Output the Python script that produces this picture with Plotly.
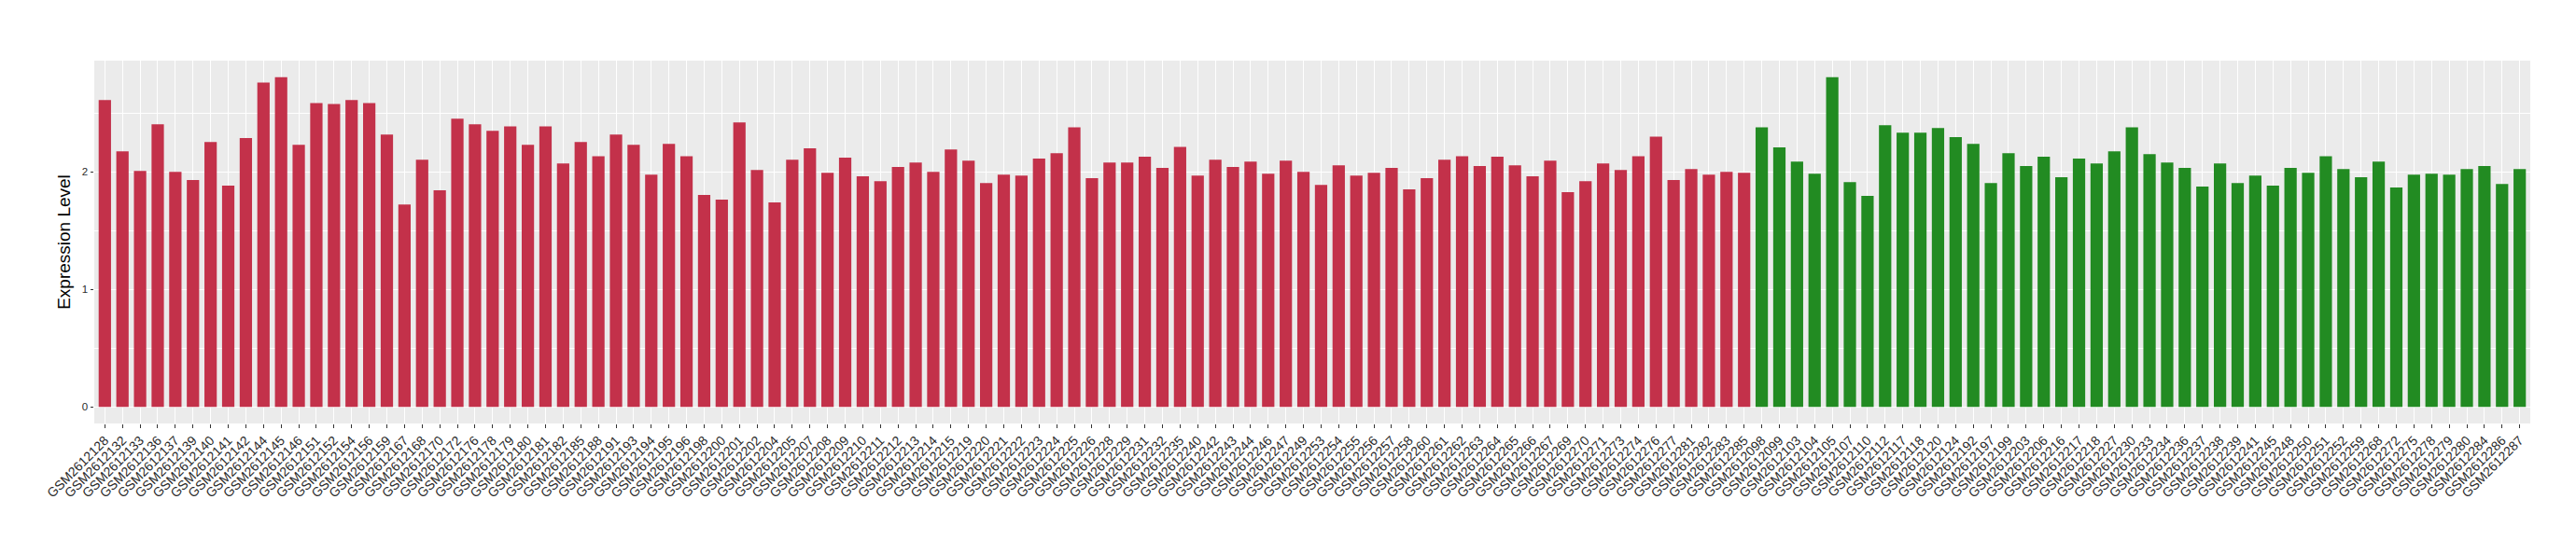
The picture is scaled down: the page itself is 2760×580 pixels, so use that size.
import plotly.graph_objects as go

red_samples = ["GSM2612128","GSM2612132","GSM2612133","GSM2612136","GSM2612137","GSM2612139","GSM2612140","GSM2612141","GSM2612142","GSM2612144",
"GSM2612145","GSM2612146","GSM2612151","GSM2612152","GSM2612154","GSM2612156","GSM2612159","GSM2612167","GSM2612168","GSM2612170",
"GSM2612172","GSM2612176","GSM2612178","GSM2612179","GSM2612180","GSM2612181","GSM2612182","GSM2612185","GSM2612188","GSM2612191",
"GSM2612193","GSM2612194","GSM2612195","GSM2612196","GSM2612198","GSM2612200","GSM2612201","GSM2612202","GSM2612204","GSM2612205",
"GSM2612207","GSM2612208","GSM2612209","GSM2612210","GSM2612211","GSM2612212","GSM2612213","GSM2612214","GSM2612215","GSM2612219",
"GSM2612220","GSM2612221","GSM2612222","GSM2612223","GSM2612224","GSM2612225","GSM2612226","GSM2612228","GSM2612229","GSM2612231",
"GSM2612232","GSM2612235","GSM2612240","GSM2612242","GSM2612243","GSM2612244","GSM2612246","GSM2612247","GSM2612249","GSM2612253",
"GSM2612254","GSM2612255","GSM2612256","GSM2612257","GSM2612258","GSM2612260","GSM2612261","GSM2612262","GSM2612263","GSM2612264",
"GSM2612265","GSM2612266","GSM2612267","GSM2612269","GSM2612270","GSM2612271","GSM2612273","GSM2612274","GSM2612276","GSM2612277",
"GSM2612281","GSM2612282","GSM2612283","GSM2612285"]
red_values = [2.61,2.174,2.008,2.403,2.0,1.929,2.253,1.883,2.286,2.759,
2.805,2.229,2.585,2.577,2.61,2.585,2.316,1.722,2.103,1.842,
2.452,2.403,2.348,2.386,2.229,2.386,2.071,2.253,2.133,2.316,
2.229,1.976,2.237,2.133,1.804,1.763,2.419,2.016,1.739,2.103,
2.199,1.992,2.12,1.962,1.921,2.041,2.079,2.0,2.19,2.095,
1.905,1.976,1.967,2.112,2.158,2.378,1.946,2.079,2.079,2.128,
2.033,2.212,1.967,2.103,2.041,2.087,1.984,2.095,2.0,1.888,
2.054,1.967,1.992,2.033,1.85,1.946,2.103,2.133,2.049,2.128,
2.054,1.962,2.095,1.826,1.921,2.071,2.016,2.133,2.299,1.929,
2.024,1.976,2.0,1.992]

green_samples = ["GSM2612098","GSM2612099","GSM2612103","GSM2612104","GSM2612105","GSM2612107","GSM2612110","GSM2612112","GSM2612117","GSM2612118",
"GSM2612120","GSM2612124","GSM2612192","GSM2612197","GSM2612199","GSM2612203","GSM2612206","GSM2612216","GSM2612217","GSM2612218",
"GSM2612227","GSM2612230","GSM2612233","GSM2612234","GSM2612236","GSM2612237","GSM2612238","GSM2612239","GSM2612241","GSM2612245",
"GSM2612248","GSM2612250","GSM2612251","GSM2612252","GSM2612259","GSM2612268","GSM2612272","GSM2612275","GSM2612278","GSM2612279",
"GSM2612280","GSM2612284","GSM2612286","GSM2612287"]
green_values = [2.378,2.207,2.087,1.984,2.805,1.913,1.796,2.395,2.332,2.332,
2.373,2.294,2.237,1.905,2.158,2.049,2.128,1.954,2.112,2.071,
2.174,2.378,2.15,2.079,2.033,1.875,2.071,1.905,1.967,1.883,
2.033,1.992,2.133,2.024,1.954,2.087,1.867,1.976,1.984,1.976,
2.024,2.049,1.897,2.024]

y_title = "Expression Level"
y_tickvals = [0, 1, 2]
y_minor_tickvals = [0.5, 1.5, 2.5]

categories = red_samples + green_samples
ymax = max(red_values + green_values)

fig = go.Figure()
fig.add_trace(go.Bar(x=red_samples, y=red_values, marker=dict(color="#C3314A", line=dict(width=0)),
                     width=0.7, showlegend=False))
fig.add_trace(go.Bar(x=green_samples, y=green_values, marker=dict(color="#228B22", line=dict(width=0)),
                     width=0.7, showlegend=False))

fig.update_layout(
    width=2760, height=580,
    barmode="overlay",
    paper_bgcolor="white",
    plot_bgcolor="#EBEBEB",
    margin=dict(l=93, r=57, t=57, b=134),
    font=dict(family="Liberation Sans, Arial, sans-serif", color="#333333"),
    xaxis=dict(
        type="category",
        categoryorder="array",
        categoryarray=categories,
        range=[-0.6, len(categories) - 1 + 0.6],
        tickangle=-45,
        tickfont=dict(size=14, color="#2A2A2A"),
        ticks="outside", ticklen=3.5, tickwidth=1.1, tickcolor="#333333",
        showgrid=True, gridcolor="white", gridwidth=1.4,
        showline=False, zeroline=False,
    ),
    yaxis=dict(
        range=[-0.05 * ymax, 1.05 * ymax],
        tickvals=y_tickvals,
        tickfont=dict(size=11.5, color="#2A2A2A"),
        ticks="outside", ticklen=3.5, tickwidth=1.1, tickcolor="#333333",
        showgrid=True, gridcolor="white", gridwidth=1.4,
        minor=dict(tickvals=y_minor_tickvals, showgrid=True, gridcolor="white", gridwidth=0.7, ticks=""),
        zeroline=False, showline=False,
        title=dict(text=y_title, font=dict(size=19, color="black"), standoff=7),
    ),
)

fig.write_html("out.html")
